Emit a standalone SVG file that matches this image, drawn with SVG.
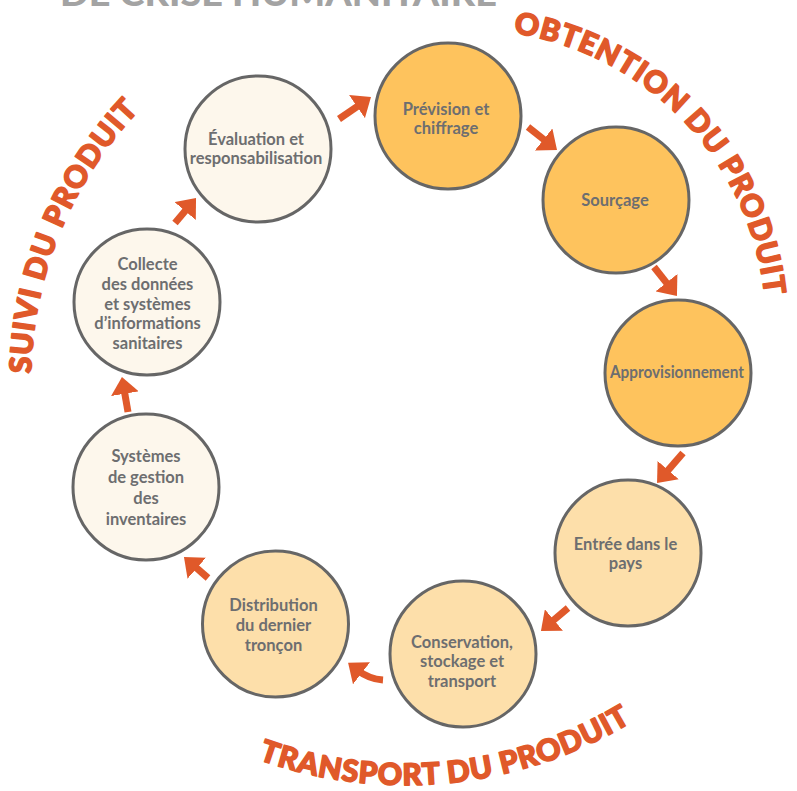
<svg xmlns="http://www.w3.org/2000/svg" width="797" height="791" viewBox="0 0 797 791">
<style>
.n circle{stroke:#666666;stroke-width:3}
.c1{fill:#FEC35D}
.c2{fill:#FDDFAA}
.c3{fill:#FDF7EC}
.n text{font-family:Lato,"Liberation Sans",sans-serif;font-weight:700;font-size:16.5px;fill:#6D6E70;text-anchor:middle}
.arc{font-family:Lato,"Open Sans","Liberation Sans",sans-serif;font-weight:900;font-size:30px;fill:#E0592A;stroke:#E0592A;stroke-width:1.6;stroke-linejoin:round}
.conn line,.conn path{stroke:#E0592A;stroke-width:7;fill:none;marker-end:url(#ah)}
</style>
<defs>
<marker id="ah" viewBox="0 0 17 28" refX="5" refY="14" markerWidth="17" markerHeight="28" markerUnits="userSpaceOnUse" orient="auto">
<path d="M0,0 L17,14 L0,28 z" fill="#E0592A"/>
</marker>
<path id="pObt" d="M399.9,38.4 A296,296 0 0 1 754.1,409.1"/>
<path id="pSuivi" d="M111.8,619.7 A393,393 0 0 1 373.4,-8.7"/>
<path id="pTrans" d="M50.8,603.3 A437,437 0 0 0 804,527.5"/>
</defs>
<rect width="797" height="791" fill="#FFFFFF"/>
<text x="60" y="6" font-family="Lato,'Liberation Sans',sans-serif" font-weight="900" font-size="35" fill="#A3A3A3" textLength="437" lengthAdjust="spacingAndGlyphs">DE CRISE HUMANITAIRE</text>
<g id="labels">
<text class="arc" letter-spacing="1"><textPath href="#pObt" startOffset="50%" text-anchor="middle">OBTENTION DU PRODUIT</textPath></text>
<text class="arc" letter-spacing="1.2"><textPath href="#pSuivi" startOffset="49.8%" text-anchor="middle">SUIVI DU PRODUIT</textPath></text>
<text class="arc" letter-spacing="0.8"><textPath href="#pTrans" startOffset="50%" text-anchor="middle">TRANSPORT DU PRODUIT</textPath></text>
</g>
<g class="conn" id="connectors">
<line x1="339" y1="119" x2="361.1" y2="103.8"/>
<line x1="528" y1="127" x2="547.6" y2="142.5"/>
<line x1="654" y1="267" x2="669.5" y2="286.6"/>
<line x1="683" y1="453" x2="664.9" y2="473.9"/>
<line x1="568" y1="608" x2="550.1" y2="623.2"/>
<path d="M383,680 Q369,679 357.6,670.2"/>
<line x1="208" y1="578" x2="193" y2="564.9"/>
<line x1="128" y1="412" x2="124" y2="388.8"/>
<line x1="175" y1="223" x2="188.3" y2="207.2"/>
</g>
<g class="n" id="prevision">
<circle class="c1" cx="448" cy="116" r="73"/>
<text x="446" y="115">Prévision et</text>
<text x="446" y="134">chiffrage</text>
</g>
<g class="n" id="sourcage">
<circle class="c1" cx="616" cy="200" r="73"/>
<text x="615" y="206">Sourçage</text>
</g>
<g class="n" id="approvisionnement">
<circle class="c1" cx="678" cy="373" r="73"/>
<text x="677" y="378" textLength="134" lengthAdjust="spacingAndGlyphs">Approvisionnement</text>
</g>
<g class="n" id="entree">
<circle class="c2" cx="628" cy="553" r="73"/>
<text x="625.5" y="550">Entrée dans le</text>
<text x="625.5" y="569">pays</text>
</g>
<g class="n" id="conservation">
<circle class="c2" cx="463" cy="654" r="73"/>
<text x="462" y="648">Conservation,</text>
<text x="462" y="667">stockage et</text>
<text x="462" y="687">transport</text>
</g>
<g class="n" id="distribution">
<circle class="c2" cx="275.5" cy="624" r="73"/>
<text x="273.5" y="611">Distribution</text>
<text x="273.5" y="631">du dernier</text>
<text x="273.5" y="651">tronçon</text>
</g>
<g class="n" id="systemes">
<circle class="c3" cx="146" cy="487" r="73"/>
<text x="146" y="462">Systèmes</text>
<text x="146" y="483">de gestion</text>
<text x="146" y="504">des</text>
<text x="146" y="525">inventaires</text>
</g>
<g class="n" id="collecte">
<circle class="c3" cx="147" cy="302" r="73"/>
<text x="147.5" y="270">Collecte</text>
<text x="147.5" y="290">des données</text>
<text x="147.5" y="310">et systèmes</text>
<text x="147.5" y="329">d’informations</text>
<text x="147.5" y="349">sanitaires</text>
</g>
<g class="n" id="evaluation">
<circle class="c3" cx="258" cy="149" r="73"/>
<text x="256" y="145">Évaluation et</text>
<text x="256" y="164">responsabilisation</text>
</g>
</svg>
